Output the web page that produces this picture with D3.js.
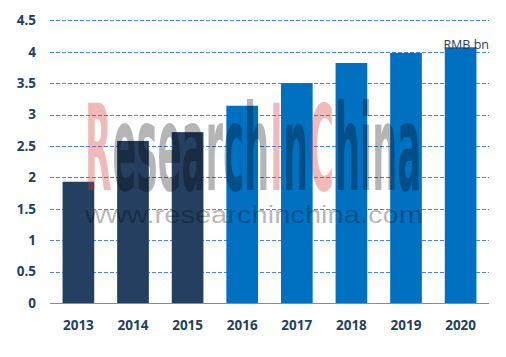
<!DOCTYPE html>
<html>
<head>
<meta charset="utf-8">
<script src="https://cdn.jsdelivr.net/npm/d3@7"></script>
<style>
html,body{margin:0;padding:0;background:#fff;}
svg{display:block;}
</style>
</head>
<body>
<div id="chart"></div>
<script>
const categories = ["2013","2014","2015","2016","2017","2018","2019","2020"];
const values = [1.93, 2.58, 2.72, 3.14, 3.50, 3.82, 3.98, 4.07];
const isForecast = [false, false, false, true, true, true, true, true];
const yTicks = [0, 0.5, 1, 1.5, 2, 2.5, 3, 3.5, 4, 4.5];
const unitLabel = "RMB bn";
const watermarkParts = ["R", "esearch", "I", "n", "C", "hina"];
const watermarkPink = [true, false, true, false, true, false];
const watermarkUrl = "www.researchinchina.com";

(function () {
const W = 506, H = 357;
const plotLeft = 50, plotRight = 489, plotTop = 20.3, plotBottom = 303;
const textColor = "#243F60";

const svg = d3.select("#chart").append("svg").attr("width", W).attr("height", H);

const x = d3.scaleBand().domain(categories).range([plotLeft, plotRight]).paddingInner(0.42).paddingOuter(0.23);
const y = d3.scaleLinear().domain([0, 4.5]).range([plotBottom, plotTop]);

// gridlines
svg.append("g").selectAll("line").data(yTicks.filter(d => d > 0)).join("line")
  .attr("x1", plotLeft).attr("x2", plotRight)
  .attr("y1", d => Math.round(y(d)) + 0.5).attr("y2", d => Math.round(y(d)) + 0.5)
  .attr("stroke", "#4A86D8").attr("stroke-width", 1).attr("stroke-dasharray", "4,2");

// bars
svg.append("g").selectAll("rect").data(categories).join("rect")
  .attr("x", d => x(d)).attr("width", x.bandwidth())
  .attr("y", (d, i) => y(values[i])).attr("height", (d, i) => y(0) - y(values[i]))
  .attr("fill", (d, i) => isForecast[i] ? "#0070C0" : "#243F60");

// baseline
svg.append("line").attr("x1", plotLeft).attr("x2", plotRight)
  .attr("y1", Math.round(y(0)) + 0.5).attr("y2", Math.round(y(0)) + 0.5)
  .attr("stroke", "#8C8C8C").attr("stroke-width", 1);

// y axis labels
const yAxis = d3.axisLeft(y).tickValues(yTicks).tickSize(0).tickPadding(0).tickFormat(d3.format("~g"));
const gy = svg.append("g").attr("transform", `translate(36,0)`).call(yAxis);
gy.select(".domain").remove();
gy.selectAll("text").attr("fill", textColor)
  .style("font-family", "'Open Sans', sans-serif").style("font-weight", "700").style("font-size", "13.5px");

// x axis labels
const xAxis = d3.axisBottom(x).tickSize(0).tickPadding(0);
const gx = svg.append("g").attr("transform", `translate(0,320)`).call(xAxis);
gx.select(".domain").remove();
gx.selectAll("text").attr("fill", textColor)
  .style("font-family", "'Open Sans', sans-serif").style("font-weight", "700").style("font-size", "13.5px");

// unit label
svg.append("text").attr("x", 489).attr("y", 49).attr("text-anchor", "end")
  .attr("fill", textColor).style("font-family", "'Open Sans', sans-serif").style("font-size", "12.5px")
  .text(unitLabel);

// watermark: fit the whole word into [85, 422], each part as its own text
const wmLeft = 85, wmRight = 422, wmBase = 190;
const wmG = svg.append("g")
  .style("font-family", "'DejaVu Sans Condensed', 'DejaVu Sans', sans-serif")
  .style("font-weight", "700").style("font-size", "119px");
const probe = wmG.append("text").attr("x", 0).attr("y", -500).text(watermarkParts.join(""));
const fullW = probe.node().getComputedTextLength();
probe.remove();
const k = (wmRight - wmLeft) / fullW;
let cx = wmLeft;
watermarkParts.forEach((t, i) => {
  const tmp = wmG.append("text").attr("x", 0).attr("y", -500).text(t);
  const w = tmp.node().getComputedTextLength() * k;
  tmp.remove();
  wmG.append("text").attr("x", cx).attr("y", wmBase)
    .attr("textLength", w - 1).attr("lengthAdjust", "spacingAndGlyphs")
    .attr("fill", watermarkPink[i] ? "#D83A3A" : "#000")
    .attr("fill-opacity", watermarkPink[i] ? 0.35 : 0.29)
    .text(t);
  cx += w;
});

svg.append("text").attr("x", 85).attr("y", 223)
  .attr("textLength", 338).attr("lengthAdjust", "spacingAndGlyphs")
  .style("font-family", "'Liberation Sans', Arial, sans-serif").style("font-size", "23px")
  .attr("fill", "#000").attr("fill-opacity", 0.29)
  .text(watermarkUrl);
})();
</script>
</body>
</html>
